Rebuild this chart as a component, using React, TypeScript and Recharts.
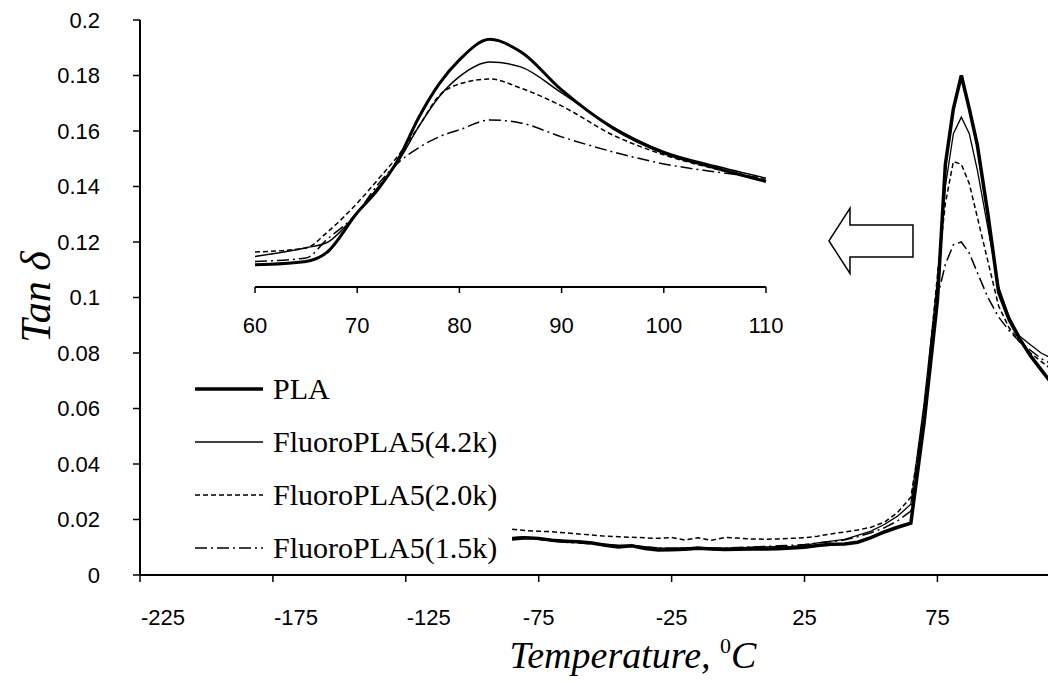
import React from "react";
import { LineChart, Line, XAxis, YAxis, Legend, Label, ReferenceDot } from "recharts";

// main chart, tan delta vs temperature (°C)
const temps = [
  -85, -80, -75, -70, -65, -60, -55, -50, -45, -40, -35, -30, -25, -20, -15, -10, -5, 0, 5, 10,
  15, 20, 25, 30, 35, 40, 45, 50, 55, 60, 65, 70, 75, 78, 81, 84, 87, 90, 94, 98, 102, 106, 110,
  114, 118,
];
const pla = [
  0.013, 0.0134, 0.0132, 0.0125, 0.0122, 0.012, 0.0115, 0.0107, 0.0101, 0.0105, 0.0095, 0.009,
  0.0091, 0.0093, 0.0096, 0.0094, 0.0092, 0.0093, 0.0094, 0.0094, 0.0095, 0.0097, 0.01, 0.0106,
  0.0111, 0.0112, 0.0118, 0.0135, 0.0155, 0.0172, 0.0187, 0.055, 0.099, 0.148, 0.168, 0.18, 0.168,
  0.155, 0.13, 0.102, 0.092, 0.085, 0.079, 0.074, 0.069,
];
const fluoro42 = [
  0.0128, 0.0132, 0.013, 0.0126, 0.0121, 0.0118, 0.0115, 0.0111, 0.0108, 0.0108, 0.0102, 0.0098,
  0.0097, 0.0098, 0.01, 0.0097, 0.0097, 0.0098, 0.01, 0.0101, 0.0102, 0.0103, 0.0107, 0.0116,
  0.0122, 0.0128, 0.0143, 0.0158, 0.0182, 0.0212, 0.0255, 0.062, 0.106, 0.14, 0.159, 0.165, 0.159,
  0.146, 0.125, 0.104, 0.093, 0.086, 0.083, 0.08, 0.078,
];
const fluoro20 = [
  0.0165, 0.016, 0.0158, 0.0156, 0.0152, 0.0148, 0.0144, 0.014, 0.0138, 0.0136, 0.0134, 0.0132,
  0.0135, 0.0126, 0.0134, 0.0125, 0.0135, 0.0133, 0.013, 0.0129, 0.013, 0.0132, 0.0134, 0.014,
  0.0148, 0.0155, 0.0162, 0.0172, 0.019, 0.0225, 0.028, 0.058, 0.108, 0.134, 0.149, 0.148, 0.141,
  0.129, 0.113, 0.097, 0.089, 0.084, 0.08, 0.077, 0.074,
];
const fluoro15 = [
  0.0135, 0.0138, 0.0128, 0.0122, 0.0118, 0.0115, 0.0112, 0.0108, 0.0103, 0.0104, 0.01, 0.0098,
  0.0096, 0.0097, 0.0098, 0.0096, 0.0097, 0.0099, 0.0101, 0.0103, 0.0105, 0.0107, 0.011, 0.0116,
  0.012, 0.0126, 0.0138, 0.0152, 0.017, 0.0195, 0.023, 0.06, 0.1, 0.112, 0.119, 0.12, 0.116, 0.109,
  0.1, 0.093, 0.088, 0.084, 0.081, 0.078, 0.076,
];

// inset, 60-110 °C
const insetTemps = [60, 65, 67, 70, 72, 74, 76, 78, 80, 83, 86, 90, 95, 100, 105, 110];
const insetPla = [
  0.0171, 0.0197, 0.0264, 0.0571, 0.0748, 0.0978, 0.13, 0.156, 0.1747, 0.1905, 0.181, 0.1516,
  0.1224, 0.1032, 0.0917, 0.0811,
];
const insetF42 = [
  0.0235, 0.0302, 0.034, 0.0571, 0.0763, 0.0963, 0.1232, 0.1462, 0.1618, 0.1731, 0.1693, 0.1493,
  0.1232, 0.1042, 0.0932, 0.0837,
];
const insetF20 = [
  0.0269, 0.03, 0.0417, 0.0645, 0.0824, 0.1009, 0.1232, 0.147, 0.1562, 0.16, 0.153, 0.1393, 0.117,
  0.1017, 0.0909, 0.0824,
];
const insetF15 = [
  0.0197, 0.0223, 0.0363, 0.0571, 0.0786, 0.0955, 0.107, 0.1155, 0.1209, 0.1285, 0.1262, 0.1155,
  0.104, 0.0947, 0.0886, 0.0837,
];

const xTicks = [-225, -175, -125, -75, -25, 25, 75];
const yTicks = [0, 0.02, 0.04, 0.06, 0.08, 0.1, 0.12, 0.14, 0.16, 0.18, 0.2];
const insetTicks = [60, 70, 80, 90, 100, 110];

const series = [
  { key: "pla", name: "PLA", width: 3.5, insetWidth: 3, dash: undefined as string | undefined },
  { key: "f42", name: "FluoroPLA5(4.2k)", width: 1.3, insetWidth: 1.5, dash: undefined },
  { key: "f20", name: "FluoroPLA5(2.0k)", width: 1.5, insetWidth: 1.5, dash: "5 3" },
  { key: "f15", name: "FluoroPLA5(1.5k)", width: 1.5, insetWidth: 1.5, dash: "12 4 2 4" },
];

const mainData = temps.map((t, i) => ({
  t,
  pla: pla[i],
  f42: fluoro42[i],
  f20: fluoro20[i],
  f15: fluoro15[i],
}));

const insetData = insetTemps.map((t, i) => ({
  t,
  pla: insetPla[i],
  f42: insetF42[i],
  f20: insetF20[i],
  f15: insetF15[i],
}));

const sans = "'Liberation Sans', Arial, sans-serif";
const serif = "'Liberation Serif', 'Times New Roman', serif";
const tickStyle = { fill: "#000", fontSize: 22, fontFamily: sans };

// the first three labels sit a bit right of their ticks in the original
function XTick(props: any) {
  const { x, y, payload } = props;
  const shift = payload.value < -100 ? 23 : 0;
  return (
    <text x={x + shift} y={y} dy="0.71em" textAnchor="middle" {...tickStyle}>
      {payload.value}
    </text>
  );
}

function Arrow(props: any) {
  const { cx, cy } = props;
  const d = `M${cx},${cy} L${cx + 21},${cy - 32.5} L${cx + 21},${cy - 16} L${cx + 84},${cy - 16}
    L${cx + 84},${cy + 16} L${cx + 21},${cy + 16} L${cx + 21},${cy + 32.5} Z`;
  return <path d={d} fill="#fff" stroke="#000" strokeWidth={1.5} />;
}

function LegendBox() {
  return (
    <div style={{ display: "flex", flexDirection: "column" }}>
      {series.map((s) => (
        <div key={s.key} style={{ display: "flex", alignItems: "center", height: 53 }}>
          <svg width={68} height={10}>
            <line
              x1={0}
              y1={5}
              x2={68}
              y2={5}
              stroke="#000"
              strokeWidth={s.width}
              strokeDasharray={s.dash}
            />
          </svg>
          <span style={{ marginLeft: 10, fontSize: 30, fontFamily: serif, color: "#000" }}>
            {s.name}
          </span>
        </div>
      ))}
    </div>
  );
}

export default function App() {
  return (
    <div
      style={{
        position: "absolute",
        left: 0,
        top: 0,
        width: 1048,
        height: 683,
        overflow: "hidden",
        background: "#fff",
      }}
    >
      <div style={{ position: "absolute", left: 0, top: 0 }}>
        <LineChart
          width={1048}
          height={683}
          data={mainData}
          margin={{ top: 20, right: 0, bottom: 48, left: 60 }}
        >
          <XAxis
            dataKey="t"
            type="number"
            domain={[-225, 116.6]}
            ticks={xTicks}
            interval={0}
            allowDataOverflow
            height={60}
            tickSize={7}
            tickMargin={27}
            axisLine={{ stroke: "#000", strokeWidth: 2 }}
            tickLine={{ stroke: "#000", strokeWidth: 1.5 }}
            tick={<XTick />}
          >
            <Label
              content={(p: any) => (
                <text
                  x={p.viewBox.x + 493}
                  y={p.viewBox.y + 93}
                  textAnchor="middle"
                  fontFamily={serif}
                  fontStyle="italic"
                  fontSize={38}
                  fill="#000"
                >
                  Temperature,{" "}
                  <tspan dy={-15} fontSize={22} fontStyle="normal">
                    0
                  </tspan>
                  <tspan dy={15}>C</tspan>
                </text>
              )}
            />
          </XAxis>
          <YAxis
            type="number"
            domain={[0, 0.2]}
            ticks={yTicks}
            interval={0}
            width={80}
            tickSize={7}
            tickMargin={33}
            axisLine={{ stroke: "#000", strokeWidth: 2 }}
            tickLine={{ stroke: "#000", strokeWidth: 1.5 }}
            tick={tickStyle}
            tickFormatter={(v: number) => String(v)}
          >
            <Label
              content={(p: any) => (
                <text
                  x={p.viewBox.x - 24}
                  y={297}
                  transform={`rotate(-90, ${p.viewBox.x - 24}, 297)`}
                  textAnchor="middle"
                  dominantBaseline="central"
                  fontFamily={serif}
                  fontStyle="italic"
                  fontSize={42}
                  fill="#000"
                >
                  Tan δ
                </text>
              )}
            />
          </YAxis>
          {series.map((s) => (
            <Line
              key={s.key}
              dataKey={s.key}
              name={s.name}
              type="linear"
              stroke="#000"
              strokeWidth={s.width}
              strokeDasharray={s.dash}
              dot={false}
              activeDot={false}
              isAnimationActive={false}
            />
          ))}
          <ReferenceDot x={34.2} y={0.1204} r={0} shape={<Arrow />} />
          <Legend
            layout="horizontal"
            verticalAlign="middle"
            align="center"
            wrapperStyle={{ left: 195, top: 362, width: 340, height: 215 }}
            content={() => <LegendBox />}
          />
        </LineChart>
      </div>

      {/* inset zoom on the glass transition */}
      <div style={{ position: "absolute", left: 0, top: 0 }}>
        <LineChart
          width={800}
          height={345}
          data={insetData}
          margin={{ top: 27, right: 34, bottom: 8, left: 255 }}
        >
          <XAxis
            dataKey="t"
            type="number"
            domain={[60, 110]}
            ticks={insetTicks}
            interval={0}
            height={50}
            tickSize={6}
            tickMargin={24}
            axisLine={{ stroke: "#000", strokeWidth: 2 }}
            tickLine={{ stroke: "#000", strokeWidth: 1.5 }}
            tick={tickStyle}
          />
          <YAxis hide type="number" domain={[0, 0.2]} />
          {series.map((s) => (
            <Line
              key={s.key}
              dataKey={s.key}
              name={s.name}
              type="monotone"
              stroke="#000"
              strokeWidth={s.insetWidth}
              strokeDasharray={s.dash}
              dot={false}
              activeDot={false}
              isAnimationActive={false}
            />
          ))}
        </LineChart>
      </div>
    </div>
  );
}
